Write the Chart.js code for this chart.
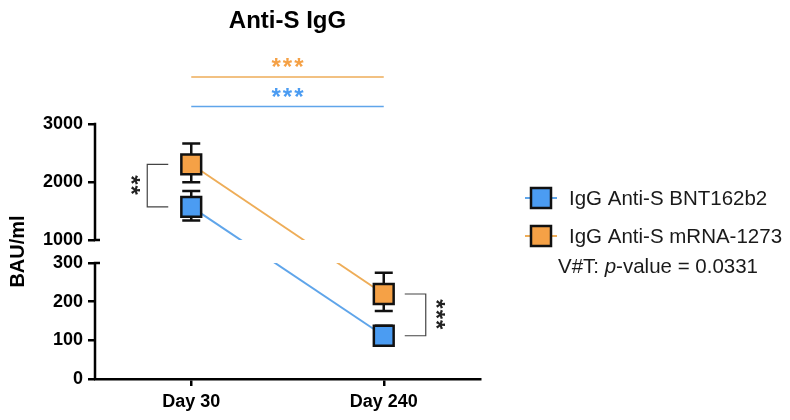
<!DOCTYPE html>
<html>
<head>
<meta charset="utf-8">
<script src="https://cdn.jsdelivr.net/npm/chart.js@4/dist/chart.umd.min.js"></script>
<style>
html,body{margin:0;padding:0;background:#fff;}
#wrap{width:790px;height:420px;position:relative;}
</style>
</head>
<body>
<div id="wrap"><canvas id="c"></canvas></div>
<script>
// ---- data ----
const categories = ['Day 30', 'Day 240'];
const seriesNames = ['IgG Anti-S BNT162b2', 'IgG Anti-S mRNA-1273'];
const bntMean  = [1570, 112];
const bntUpper = [1845, 138];
const bntLower = [1335, 100];
const mrnaMean  = [2305, 220];
const mrnaUpper = [2665, 275];
const mrnaLower = [1995, 176];
const yTicksLower = [0, 100, 200, 300];
const yTicksUpper = [1000, 2000, 3000];
const titleText = 'Anti-S IgG';
const yTitle = 'BAU/ml';
const noteParts = ['V#T: ', 'p', '-value = 0.0331'];
const sigBetweenDays = ['***', '***'];   // mRNA-1273, BNT162b2
const sigBetweenVaccines = ['**', '***']; // Day 30, Day 240

// ---- broken y scale ----
const BREAK_LOW = 300, BREAK_HIGH = 1000, AXIS_TOP = 3000, GAP = 0.2;
function toVirtual(v) {
  if (v <= BREAK_LOW) return v / BREAK_LOW;
  if (v >= BREAK_HIGH) return 1 + GAP + (v - BREAK_HIGH) / (AXIS_TOP - BREAK_HIGH);
  return 1 + GAP * (v - BREAK_LOW) / (BREAK_HIGH - BREAK_LOW);
}
function fromVirtual(u) {
  if (u <= 1) return u * BREAK_LOW;
  if (u >= 1 + GAP) return BREAK_HIGH + (u - 1 - GAP) * (AXIS_TOP - BREAK_HIGH);
  return BREAK_LOW + (u - 1) / GAP * (BREAK_HIGH - BREAK_LOW);
}
class BrokenLinearScale extends Chart.LinearScale {
  determineDataLimits() { this.min = 0; this.max = toVirtual(AXIS_TOP); }
  buildTicks() { return [...yTicksLower, ...yTicksUpper].map(v => ({ value: v })); }
  getPixelForValue(value) {
    if (value === null || value === undefined) return NaN;
    return super.getPixelForValue(toVirtual(value));
  }
  getValueForPixel(pixel) { return fromVirtual(super.getValueForPixel(pixel)); }
}
BrokenLinearScale.id = 'brokenLinear';
BrokenLinearScale.defaults = Chart.LinearScale.defaults;
Chart.register(BrokenLinearScale);

const FONT = "'Liberation Sans', Arial, Helvetica, sans-serif";
const BLUE_FILL = '#4B9CF2', BLUE_LINE = '#5FA5EA';
const ORANGE_FILL = '#F5A146', ORANGE_LINE = '#EEAD58';

const errors = [[bntLower, bntUpper], [mrnaLower, mrnaUpper]];

const gapAndErrorPlugin = {
  id: 'gapAndError',
  beforeDatasetsDraw(chart) {
    const ctx = chart.ctx, y = chart.scales.y;
    chart.data.datasets.forEach((ds, di) => {
      const meta = chart.getDatasetMeta(di);
      const [lo, hi] = errors[di];
      meta.data.forEach((pt, i) => {
        const yt = y.getPixelForValue(hi[i]), yb = y.getPixelForValue(lo[i]);
        ctx.save();
        ctx.strokeStyle = '#111';
        ctx.lineWidth = 2.5;
        ctx.beginPath();
        ctx.moveTo(pt.x, yt); ctx.lineTo(pt.x, yb);
        ctx.moveTo(pt.x - 9, yt); ctx.lineTo(pt.x + 9, yt);
        ctx.moveTo(pt.x - 9, yb); ctx.lineTo(pt.x + 9, yb);
        ctx.stroke();
        ctx.restore();
      });
    });
    const pHigh = y.getPixelForValue(BREAK_HIGH), pLow = y.getPixelForValue(BREAK_LOW);
    ctx.save();
    ctx.beginPath();
    ctx.rect(0, 0, chart.width, pHigh);
    ctx.rect(0, pLow, chart.width, chart.height - pLow);
    ctx.clip();
  },
  afterDatasetsDraw(chart) {
    chart.ctx.restore();
  },
  afterDraw(chart) {
    const ctx = chart.ctx, x = chart.scales.x, y = chart.scales.y, ca = chart.chartArea;
    const ax = ca.left;
    ctx.save();
    ctx.strokeStyle = '#000';
    ctx.lineWidth = 2.5;
    ctx.lineCap = 'butt';
    ctx.beginPath();
    ctx.moveTo(ax, y.getPixelForValue(0)); ctx.lineTo(ax, y.getPixelForValue(BREAK_LOW) - 1.25);
    ctx.moveTo(ax, y.getPixelForValue(BREAK_HIGH) + 1.25); ctx.lineTo(ax, y.getPixelForValue(AXIS_TOP) - 1.25);
    ctx.moveTo(ax, y.getPixelForValue(BREAK_LOW)); ctx.lineTo(ax + 5, y.getPixelForValue(BREAK_LOW));
    ctx.moveTo(ax, y.getPixelForValue(BREAK_HIGH)); ctx.lineTo(ax + 5, y.getPixelForValue(BREAK_HIGH));
    ctx.stroke();
    ctx.restore();

    ctx.save();
    ctx.fillStyle = '#000';
    ctx.font = 'bold 24px ' + FONT;
    ctx.textAlign = 'center';
    ctx.textBaseline = 'alphabetic';
    ctx.fillText(titleText, (ca.left + ca.right) / 2, 28);
    ctx.restore();

    const x0 = x.getPixelForValue(0), x1 = x.getPixelForValue(1);
    const midX = (x0 + x1) / 2;
    const topLines = [
      { color: ORANGE_LINE, star: ORANGE_FILL, ly: ca.top - 47, text: sigBetweenDays[0] },
      { color: BLUE_LINE, star: BLUE_FILL, ly: ca.top - 17.5, text: sigBetweenDays[1] }
    ];
    topLines.forEach(t => {
      ctx.save();
      ctx.strokeStyle = t.color;
      ctx.lineWidth = 1.6;
      ctx.beginPath();
      ctx.moveTo(x0, t.ly); ctx.lineTo(x1, t.ly);
      ctx.stroke();
      ctx.fillStyle = t.star;
      ctx.font = 'bold 24px ' + FONT;
      ctx.letterSpacing = '2px';
      ctx.textAlign = 'center';
      ctx.textBaseline = 'alphabetic';
      ctx.fillText(t.text, midX + 1, t.ly - 2);
      ctx.restore();
    });

    function bracket(xArmStart, xV, yA, yB, text, starX) {
      ctx.save();
      ctx.strokeStyle = '#444';
      ctx.lineWidth = 1.2;
      ctx.beginPath();
      ctx.moveTo(xArmStart, yA); ctx.lineTo(xV, yA); ctx.lineTo(xV, yB); ctx.lineTo(xArmStart, yB);
      ctx.stroke();
      ctx.translate(starX, (yA + yB) / 2);
      ctx.rotate(Math.PI / 2);
      ctx.fillStyle = '#222';
      ctx.font = 'bold 24px ' + FONT;
      ctx.letterSpacing = '1px';
      ctx.textAlign = 'center';
      ctx.textBaseline = 'middle';
      ctx.fillText(text, 0, 5);
      ctx.restore();
    }
    bracket(x0 - 23, x0 - 44, y.getPixelForValue(mrnaMean[0]), y.getPixelForValue(bntMean[0]), sigBetweenVaccines[0], x0 - 57);
    bracket(x1 + 21, x1 + 42, y.getPixelForValue(mrnaMean[1]), y.getPixelForValue(bntMean[1]), sigBetweenVaccines[1], x1 + 56);

    const lx = ca.right + 61;
    const items = [
      { name: seriesNames[0], fill: BLUE_FILL, line: BLUE_LINE, yy: 198 },
      { name: seriesNames[1], fill: ORANGE_FILL, line: ORANGE_LINE, yy: 236 }
    ];
    items.forEach(it => {
      ctx.save();
      ctx.strokeStyle = it.line;
      ctx.lineWidth = 2;
      ctx.beginPath();
      ctx.moveTo(lx - 16, it.yy); ctx.lineTo(lx + 16, it.yy);
      ctx.stroke();
      ctx.fillStyle = it.fill;
      ctx.fillRect(lx - 10, it.yy - 10, 20, 20);
      ctx.strokeStyle = '#111';
      ctx.lineWidth = 2.5;
      ctx.strokeRect(lx - 10, it.yy - 10, 20, 20);
      ctx.fillStyle = '#1a1a1a';
      ctx.font = '20.5px ' + FONT;
      ctx.textAlign = 'left';
      ctx.textBaseline = 'middle';
      ctx.fillText(it.name, lx + 28, it.yy + 1);
      ctx.restore();
    });
    ctx.save();
    ctx.fillStyle = '#1a1a1a';
    ctx.textBaseline = 'middle';
    ctx.textAlign = 'left';
    let tx = lx + 17;
    const ny = 267;
    ctx.font = '20.5px ' + FONT;
    ctx.fillText(noteParts[0], tx, ny); tx += ctx.measureText(noteParts[0]).width;
    ctx.font = 'italic 20.5px ' + FONT;
    ctx.fillText(noteParts[1], tx, ny); tx += ctx.measureText(noteParts[1]).width;
    ctx.font = '20.5px ' + FONT;
    ctx.fillText(noteParts[2], tx, ny);
    ctx.restore();
  }
};

new Chart(document.getElementById('c'), {
  type: 'line',
  data: {
    labels: categories,
    datasets: [
      {
        label: seriesNames[0], data: bntMean,
        borderColor: BLUE_LINE, backgroundColor: BLUE_FILL,
        pointBackgroundColor: BLUE_FILL, pointBorderColor: '#111',
        pointBorderWidth: 2.5, pointStyle: 'rect', pointRadius: 14, pointHoverRadius: 14,
        borderWidth: 2, tension: 0, fill: false
      },
      {
        label: seriesNames[1], data: mrnaMean,
        borderColor: ORANGE_LINE, backgroundColor: ORANGE_FILL,
        pointBackgroundColor: ORANGE_FILL, pointBorderColor: '#111',
        pointBorderWidth: 2.5, pointStyle: 'rect', pointRadius: 14, pointHoverRadius: 14,
        borderWidth: 2, tension: 0, fill: false
      }
    ]
  },
  options: {
    responsive: true,
    maintainAspectRatio: false,
    animation: false,
    events: [],
    layout: { padding: { top: 124, right: 310, left: 0, bottom: 0 } },
    plugins: { legend: { display: false }, title: { display: false }, tooltip: { enabled: false } },
    scales: {
      x: {
        type: 'category',
        offset: true,
        afterFit(s) { s.height = 41; },
        grid: { display: true, drawOnChartArea: false, drawTicks: true, tickLength: 7, color: '#000', lineWidth: 2.5, offset: false },
        border: { display: true, color: '#000', width: 2.5 },
        ticks: { color: '#000', font: { family: FONT, size: 18, weight: 'bold' }, padding: 5, maxRotation: 0 }
      },
      y: {
        type: 'brokenLinear',
        afterFit(s) { s.width = 95; },
        grid: { display: true, drawOnChartArea: false, drawTicks: true, tickLength: 7, color: '#000', lineWidth: 2.5 },
        border: { display: false },
        ticks: { color: '#000', font: { family: FONT, size: 18, weight: 'bold' }, padding: 5, autoSkip: false, callback: v => String(v) },
        title: { display: true, text: yTitle, color: '#000', font: { family: FONT, size: 20, weight: 'bold' }, padding: { top: 6, bottom: 0 } }
      }
    }
  },
  plugins: [gapAndErrorPlugin]
});
</script>
</body>
</html>
